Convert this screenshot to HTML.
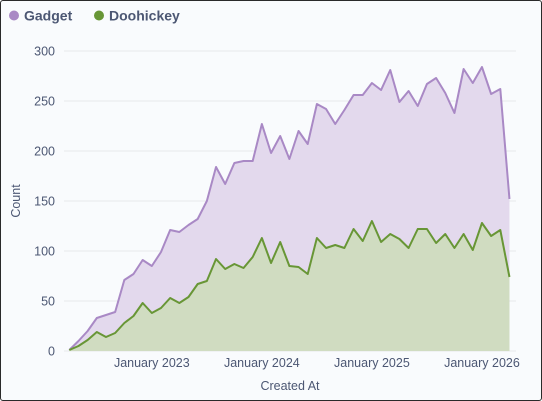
<!DOCTYPE html>
<html><head><meta charset="utf-8"><style>
html,body{margin:0;padding:0;background:#fff;}
#card{position:absolute;left:0;top:0;width:540px;height:399px;border:1px solid #2a2a2a;border-radius:3px;background:#f9fbfd;overflow:hidden;}
svg{position:absolute;left:0;top:0;font-family:"Liberation Sans",sans-serif;}
</style></head><body>
<div id="card">
<svg id="chart" width="542" height="401"></svg>
</div>
<script>
const startYear = 2022, startMonth = 3; // April 2022
const gadget = [1,10,20,33,36,39,71,77,91,85,99,121,119,126,132,150,184,167,188,190,190,227,198,215,192,220,207,247,242,227,241,256,256,268,261,281,249,260,245,267,273,258,238,282,268,284,257,262,152];
const doohickey = [1,5,11,19,14,18,28,35,48,38,43,53,48,54,67,70,92,82,87,83,94,113,88,109,85,84,77,113,103,106,103,122,110,130,109,117,112,103,122,122,108,117,103,117,101,128,115,121,74];
const yTicks = [0,50,100,150,200,250,300];
const xTickLabels = ["January 2023","January 2024","January 2025","January 2026"];
const xTickIndex = [9,21,33,45];

const NS="http://www.w3.org/2000/svg";
const svg=document.getElementById('chart');
const x0=68.3, step=9.17, yBase=350, yScale=1.0;
const X=i=>x0+i*step;
const Y=v=>yBase-v*yScale;
function mk(tag,attrs,parent){const e=document.createElementNS(NS,tag);for(const k in attrs)e.setAttribute(k,attrs[k]);(parent||svg).appendChild(e);return e;}

yTicks.forEach(t=>{
  const g=mk('line',{x1:63,x2:515,y1:Y(t),y2:Y(t),stroke:'#e6e8ec','stroke-width':1});
  
  
  const l=mk('text',{x:54,y:Y(t)+4.5,'text-anchor':'end','font-size':12.5,fill:'#4c5773'});
  l.textContent=t;
  
  
});

function series(data,stroke,fill,name){
  let d='M'+X(0)+','+Y(data[0]);
  for(let i=1;i<data.length;i++)d+='L'+X(i).toFixed(2)+','+Y(data[i]).toFixed(2);
  const a=mk('path',{d:d+'L'+X(data.length-1)+','+Y(0)+'L'+X(0)+','+Y(0)+'Z',fill:fill,stroke:'none'});
  
  
  const l=mk('path',{d:d,fill:'none',stroke:stroke,'stroke-width':2,'stroke-linejoin':'round'});
  
  
}
series(gadget,'#a989c5','#e3d9ed','gadget');
series(doohickey,'#689636','#d0dcc1','doohickey');

xTickLabels.forEach((s,k)=>{
  const t=mk('text',{x:X(xTickIndex[k]),y:366,'text-anchor':'middle','font-size':12.5,fill:'#4c5773'});
  t.textContent=s;
  
  
});
const xt=mk('text',{x:289,y:389,'text-anchor':'middle','font-size':12.5,fill:'#4c5773'});
xt.textContent='Created At';


const yt=mk('text',{x:0,y:0,'text-anchor':'middle','font-size':12.5,fill:'#4c5773',transform:'translate(19,200) rotate(-90)'});
yt.textContent='Count';



[['Gadget','#a989c5',13,23],['Doohickey','#689636',98,108]].forEach(([n,c,cx,tx])=>{
  const g=mk('g',{});
  
  
  mk('circle',{cx:cx,cy:14.5,r:5,fill:c},g);
  const t=mk('text',{x:tx,y:19.5,'font-size':14,'font-weight':'bold',fill:'#4c5773'},g);
  t.textContent=n;
});
</script>
</body></html>
